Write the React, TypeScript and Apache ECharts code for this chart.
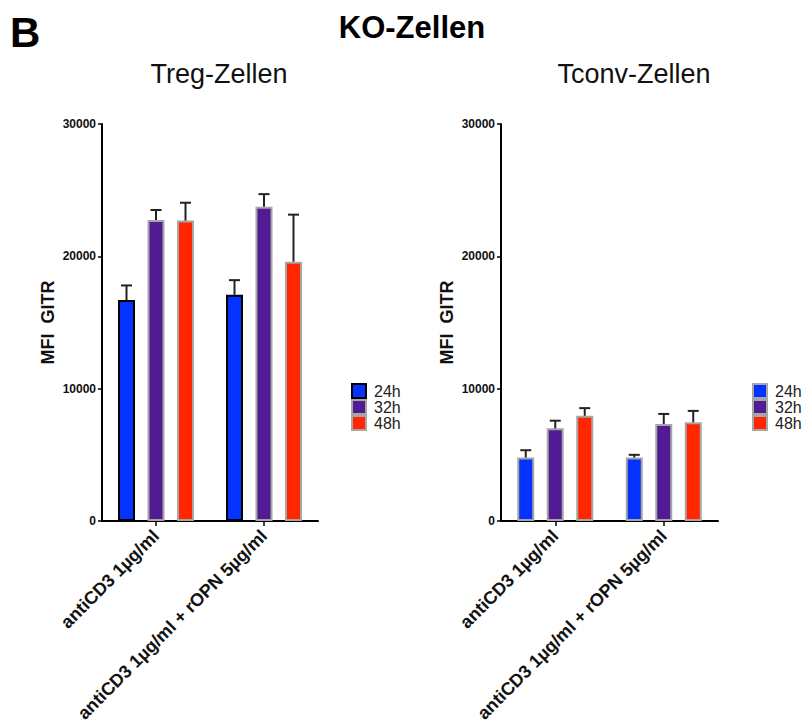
import React, { useEffect, useRef } from "react";
import * as echarts from "echarts";

// Stimulation conditions on the x axis
const categories = ["antiCD3 1µg/ml", "antiCD3 1µg/ml + rOPN 5µg/ml"];
const timepoints = ["24h", "32h", "48h"];

// Treg cells: mean GITR MFI and upper error (SEM)
const tregMean24 = [16700, 17100];
const tregErr24 = [1100, 1100];
const tregMean32 = [22750, 23750];
const tregErr32 = [750, 950];
const tregMean48 = [22700, 19600];
const tregErr48 = [1350, 3550];

// Tconv cells: mean GITR MFI and upper error (SEM)
const tconvMean24 = [4800, 4800];
const tconvErr24 = [550, 200];
const tconvMean32 = [7000, 7330];
const tconvErr32 = [580, 760];
const tconvMean48 = [7950, 7460];
const tconvErr48 = [580, 860];

const yTicks = [0, 10000, 20000, 30000];

const COLORS = ["#0433ff", "#531b93", "#ff2600"];
const FONT = "'Liberation Sans', Arial, Helvetica, sans-serif";
const BAR_W = 17;
const BAR_GAP = 0.735;
const STEP = BAR_W * (1 + BAR_GAP);

function makeAxes(gridIndex: number) {
  const xAxis = {
    type: "category",
    gridIndex,
    data: categories,
    axisLine: { show: true, lineStyle: { color: "#000", width: 2 } },
    axisTick: { show: true, alignWithLabel: true, length: 5, lineStyle: { color: "#000", width: 1.5 } },
    axisLabel: {
      interval: 0,
      rotate: 45,
      margin: 12,
      color: "#111",
      fontFamily: FONT,
      fontWeight: "bold",
      fontSize: 18,
    },
  };
  const yAxis = {
    type: "value",
    gridIndex,
    min: yTicks[0],
    max: yTicks[yTicks.length - 1],
    interval: yTicks[1] - yTicks[0],
    name: "MFI  GITR",
    nameLocation: "middle",
    nameRotate: 90,
    nameGap: 45,
    nameTextStyle: { fontFamily: FONT, fontWeight: "bold", fontSize: 18, color: "#111" },
    axisLine: { show: true, lineStyle: { color: "#000", width: 2 } },
    axisTick: { show: true, length: 4, lineStyle: { color: "#000", width: 1.5 } },
    axisLabel: {
      margin: 6,
      color: "#111",
      fontFamily: FONT,
      fontWeight: "bold",
      fontSize: 12,
      formatter: (v: number) => String(v),
    },
    splitLine: { show: false },
  };
  return { xAxis, yAxis };
}

function barSeries(gridIndex: number, means: number[][], firstBorder: string) {
  return means.map((m, k) => ({
    type: "bar",
    name: timepoints[k],
    xAxisIndex: gridIndex,
    yAxisIndex: gridIndex,
    data: m,
    barWidth: BAR_W,
    barGap: `${BAR_GAP * 100}%`,
    itemStyle: {
      color: COLORS[k],
      borderColor: k === 0 ? firstBorder : "#a6a6a6",
      borderWidth: 2,
    },
    z: 2,
  }));
}

function errorSeries(gridIndex: number, means: number[][], errs: number[][]) {
  const data: number[][] = [];
  means.forEach((m, k) => {
    m.forEach((v, ci) => data.push([ci, v, errs[k][ci], k]));
  });
  return {
    type: "custom",
    xAxisIndex: gridIndex,
    yAxisIndex: gridIndex,
    data,
    encode: { x: 0, y: 1 },
    z: 5,
    clip: false,
    renderItem: (_params: any, api: any) => {
      const ci = api.value(0);
      const mean = api.value(1);
      const err = api.value(2);
      const k = api.value(3);
      const base = api.coord([ci, mean]);
      const top = api.coord([ci, mean + err]);
      const x = base[0] + (k - 1) * STEP;
      const style = { stroke: "#222", lineWidth: 2 };
      return {
        type: "group",
        children: [
          { type: "line", shape: { x1: x, y1: base[1], x2: x, y2: top[1] }, style },
          { type: "line", shape: { x1: x - 5.5, y1: top[1], x2: x + 5.5, y2: top[1] }, style },
        ],
      };
    },
  };
}

function legendFor(left: number, firstBorder: string) {
  return {
    left,
    top: 383,
    padding: 0,
    orient: "vertical",
    icon: "rect",
    itemWidth: 14,
    itemHeight: 14,
    itemGap: 0,
    selectedMode: false,
    data: timepoints.map((t, k) => ({
      name: t,
      itemStyle: { color: COLORS[k], borderColor: k === 0 ? firstBorder : "#a6a6a6", borderWidth: 2 },
    })),
    textStyle: { fontFamily: FONT, fontSize: 16, lineHeight: 16, color: "#222", padding: [0, 0, 0, 3] },
  };
}

export default function App() {
  const ref = useRef<HTMLDivElement>(null);

  useEffect(() => {
    if (!ref.current) return;
    const chart = echarts.init(ref.current, null, { renderer: "svg" });

    const tregMeans = [tregMean24, tregMean32, tregMean48];
    const tregErrs = [tregErr24, tregErr32, tregErr48];
    const tconvMeans = [tconvMean24, tconvMean32, tconvMean48];
    const tconvErrs = [tconvErr24, tconvErr32, tconvErr48];

    const a0 = makeAxes(0);
    const a1 = makeAxes(1);

    chart.setOption({
      animation: false,
      backgroundColor: "#ffffff",
      grid: [
        { left: 102, top: 124, width: 216, height: 397, containLabel: false },
        { left: 501, top: 124, width: 217, height: 397, containLabel: false },
      ],
      xAxis: [a0.xAxis, a1.xAxis],
      yAxis: [a0.yAxis, a1.yAxis],
      legend: [legendFor(351, "#000"), legendFor(752, "#a6a6a6")],
      graphic: [
        {
          type: "text",
          x: 10,
          y: 32,
          style: { text: "B", font: `bold 42px ${FONT}`, fill: "#000", verticalAlign: "middle", align: "left" },
        },
        {
          type: "text",
          x: 412,
          y: 27,
          style: { text: "KO-Zellen", font: `bold 31px ${FONT}`, fill: "#000", verticalAlign: "middle", align: "center" },
        },
        {
          type: "text",
          x: 219,
          y: 74,
          style: { text: "Treg-Zellen", font: `27px ${FONT}`, fill: "#111", verticalAlign: "middle", align: "center" },
        },
        {
          type: "text",
          x: 634,
          y: 74,
          style: { text: "Tconv-Zellen", font: `27px ${FONT}`, fill: "#111", verticalAlign: "middle", align: "center" },
        },
      ],
      series: [
        ...barSeries(0, tregMeans, "#000"),
        errorSeries(0, tregMeans, tregErrs),
        ...barSeries(1, tconvMeans, "#a6a6a6"),
        errorSeries(1, tconvMeans, tconvErrs),
      ],
    });

    return () => chart.dispose();
  }, []);

  return (
    <div
      ref={ref}
      style={{ position: "absolute", left: 0, top: 0, width: 807, height: 726, background: "#fff" }}
    />
  );
}
